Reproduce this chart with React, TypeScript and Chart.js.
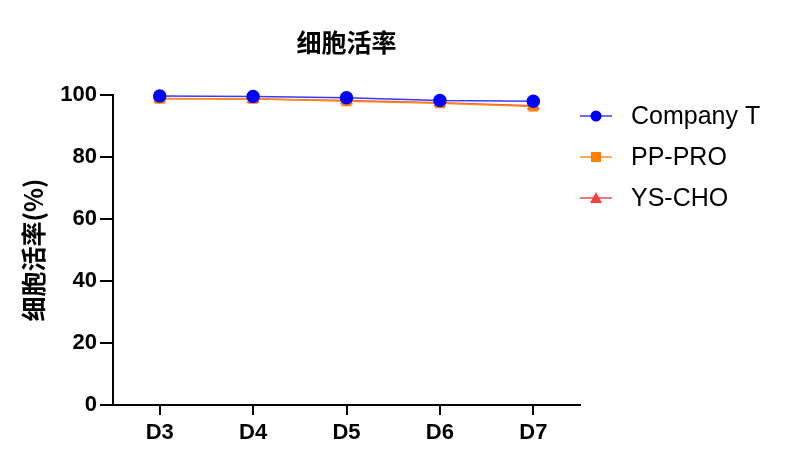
import React, { useEffect, useRef } from "react";
import { Chart, registerables } from "chart.js";

Chart.register(...registerables);

const categories = ["D3", "D4", "D5", "D6", "D7"];
const seriesNames = ["Company T", "PP-PRO", "YS-CHO"];
const companyT = [99.7, 99.5, 99.1, 98.2, 98.0];
const ppPro = [98.8, 98.8, 98.0, 97.3, 96.3];
const ysCho = [98.9, 98.7, 98.2, 97.5, 96.5];
const yTicks = [0, 20, 40, 60, 80, 100];
const chartTitle = "细胞活率";
const yTitle = "细胞活率(%)";

const FONT = "'Liberation Sans', Arial, 'Noto Sans CJK SC', sans-serif";
const CJK = "'Noto Sans CJK SC', 'Liberation Sans', sans-serif";

const overlayPlugin = {
  id: "overlay",
  afterDraw(chart: any) {
    const ctx = chart.ctx as CanvasRenderingContext2D;
    const area = chart.chartArea;
    ctx.save();
    // title
    ctx.fillStyle = "#000";
    ctx.font = `bold 25px ${CJK}`;
    ctx.textAlign = "center";
    ctx.textBaseline = "middle";
    ctx.fillText(chartTitle, (area.left + area.right) / 2, 42);
    // y title
    ctx.save();
    ctx.translate(33, 250);
    ctx.rotate(-Math.PI / 2);
    ctx.font = `bold 25px ${CJK}`;
    ctx.fillText(yTitle, 0, 0);
    ctx.restore();
    // legend
    const rowsY = [116, 157, 198];
    chart.data.datasets.forEach((ds: any, i: number) => {
      const y = rowsY[i];
      ctx.strokeStyle = ds.borderColor;
      ctx.lineWidth = 1.5;
      ctx.beginPath();
      ctx.moveTo(580, y);
      ctx.lineTo(612, y);
      ctx.stroke();
      ctx.fillStyle = ds.pointBackgroundColor;
      const cx = 596;
      if (ds.pointStyle === "circle") {
        ctx.beginPath();
        ctx.arc(cx, y, 5.5, 0, Math.PI * 2);
        ctx.fill();
      } else if (ds.pointStyle === "rect") {
        ctx.fillRect(cx - 5, y - 5, 10, 10);
      } else {
        ctx.beginPath();
        ctx.moveTo(cx, y - 6);
        ctx.lineTo(cx + 6, y + 5);
        ctx.lineTo(cx - 6, y + 5);
        ctx.closePath();
        ctx.fill();
      }
      ctx.fillStyle = "#000";
      ctx.font = `25px ${FONT}`;
      ctx.textAlign = "left";
      ctx.textBaseline = "middle";
      ctx.fillText(ds.label, 631, y + 1);
    });
    ctx.restore();
  },
};

export default function App() {
  const ref = useRef<HTMLCanvasElement>(null);
  useEffect(() => {
    if (!ref.current) return;
    const chart = new Chart(ref.current, {
      type: "line",
      data: {
        labels: categories,
        datasets: [
          {
            label: seriesNames[0],
            data: companyT,
            borderColor: "#3a3af5",
            backgroundColor: "#0000ff",
            pointBackgroundColor: "#0000ff",
            pointBorderColor: "#0000ff",
            pointStyle: "circle",
            pointRadius: 6,
            borderWidth: 1.5,
            clip: false,
          },
          {
            label: seriesNames[1],
            data: ppPro,
            borderColor: "#ff8a1a",
            backgroundColor: "#ff7f00",
            pointBackgroundColor: "#ff7f00",
            pointBorderColor: "#ff7f00",
            pointStyle: "rect",
            pointRadius: 6,
            borderWidth: 1.5,
            clip: false,
          },
          {
            label: seriesNames[2],
            data: ysCho,
            borderColor: "#f04848",
            backgroundColor: "#f04040",
            pointBackgroundColor: "#f04040",
            pointBorderColor: "#f04040",
            pointStyle: "triangle",
            pointRadius: 6,
            borderWidth: 1.5,
            clip: false,
          },
        ],
      },
      options: {
        animation: false,
        responsive: false,
        maintainAspectRatio: false,
        layout: { padding: { top: 95, right: 214, left: 0, bottom: 0 } },
        plugins: { legend: { display: false }, title: { display: false }, tooltip: { enabled: false } },
        scales: {
          x: {
            offset: true,
            afterFit: (s: any) => {
              s.height = 58;
            },
            border: { color: "#000", width: 2 },
            grid: { drawOnChartArea: false, color: "#000", lineWidth: 2, tickLength: 10, offset: false },
            ticks: { color: "#000", font: { family: FONT, size: 22, weight: "bold" }, padding: 5 },
          },
          y: {
            min: 0,
            max: 100,
            afterFit: (s: any) => {
              s.width = 113;
            },
            afterBuildTicks: (s: any) => {
              s.ticks = yTicks.map((v) => ({ value: v }));
            },
            border: { color: "#000", width: 2 },
            grid: { drawOnChartArea: false, color: "#000", lineWidth: 2, tickLength: 13 },
            ticks: { color: "#000", font: { family: FONT, size: 22, weight: "bold" }, padding: 3 },
          },
        },
      },
      plugins: [overlayPlugin],
    });
    return () => chart.destroy();
  }, []);
  return (
    <div style={{ position: "fixed", left: 0, top: 0, width: 794, height: 463, background: "#fff" }}>
      <canvas ref={ref} width={794} height={463} style={{ width: 794, height: 463 }} />
    </div>
  );
}
